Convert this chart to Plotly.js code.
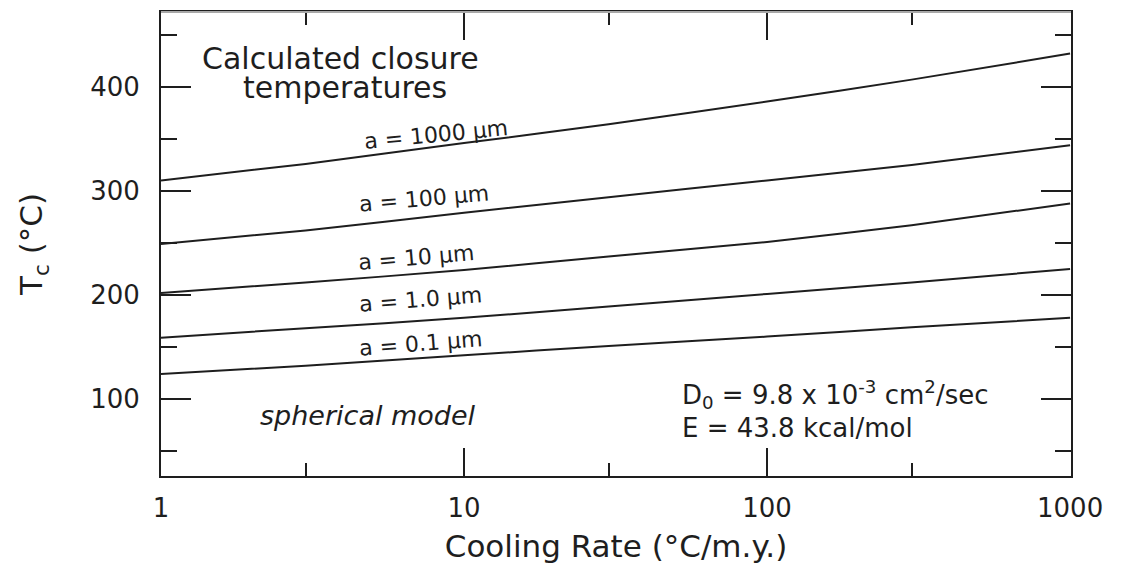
<!DOCTYPE html>
<html>
<head>
<meta charset="utf-8">
<script src="https://cdn.plot.ly/plotly-3.0.1.min.js"></script>
<style>
  html, body { margin: 0; padding: 0; background: #ffffff; }
  #chart { width: 1127px; height: 564px; }
</style>
</head>
<body>
<div id="chart"></div>
<script>
// Cooling rates (°C/m.y.) at which closure temperatures are tabulated
const coolingRate = [1, 3, 10, 30, 100, 300, 1000];

// Closure temperature Tc (°C) for each grain radius a
const tc_a1000 = [310, 326, 346, 364, 386, 407, 432];
const tc_a100  = [249, 262, 279, 294, 310, 325, 344];
const tc_a10   = [202, 212, 224, 237, 251, 267, 288];
const tc_a1    = [159, 168, 178, 189, 201, 212, 225];
const tc_a01   = [124, 132, 142, 151, 160, 169, 178];

const radiusLabels = ['a = 1000 μm', 'a = 100 μm', 'a = 10 μm', 'a = 1.0 μm', 'a = 0.1 μm'];
const seriesValues = [tc_a1000, tc_a100, tc_a10, tc_a1, tc_a01];

const xTickVals = [1, 10, 100, 1000];
const xTickText = ['1', '10', '100', '1000'];
const yTickVals = [100, 200, 300, 400];
const yTickText = ['100', '200', '300', '400'];

const INK = '#1e1e1e';
const FONT = 'DejaVu Sans, Liberation Sans, sans-serif';

const traces = seriesValues.map((vals, i) => ({
  type: 'scatter',
  mode: 'lines',
  name: radiusLabels[i],
  x: coolingRate,
  y: vals,
  line: { color: INK, width: 2, shape: 'spline', smoothing: 0.6 },
  hoverinfo: 'x+y+name'
}));

// label placement along each curve: [log10 x, Tc, angle]
const labelPlace = [
  [0.908, 353.8, -5.5],
  [0.868, 292.3, -5],
  [0.842, 236.5, -5],
  [0.855, 195.2, -4.5],
  [0.855, 153.8, -4.5]
];

const annotations = radiusLabels.map((t, i) => ({
  text: t,
  xref: 'x', yref: 'y',
  x: labelPlace[i][0], y: labelPlace[i][1],
  xanchor: 'center', yanchor: 'middle',
  textangle: labelPlace[i][2],
  showarrow: false,
  font: { family: FONT, size: 22, color: INK }
}));

annotations.push(
  {
    text: 'Calculated closure',
    xref: 'x', yref: 'y', x: 0.592, y: 427.6,
    xanchor: 'center', yanchor: 'middle', showarrow: false,
    height: 25,
    font: { family: FONT, size: 30, color: INK }
  },
  {
    text: 'temperatures',
    xref: 'x', yref: 'y', x: 0.607, y: 399.2,
    xanchor: 'center', yanchor: 'middle', showarrow: false,
    height: 33,
    font: { family: FONT, size: 30, color: INK }
  },
  {
    text: '<i>spherical model</i>',
    xref: 'x', yref: 'y', x: 0.683, y: 84,
    xanchor: 'center', yanchor: 'middle', showarrow: false,
    font: { family: FONT, size: 27, color: INK }
  },
  {
    text: 'D<sub>0</sub> = 9.8 x 10<sup>-3</sup> cm<sup>2</sup>/sec',
    xref: 'x', yref: 'y', x: 1.713, y: 104,
    xanchor: 'left', yanchor: 'middle', showarrow: false,
    font: { family: FONT, size: 26, color: INK }
  },
  {
    text: 'E = 43.8 kcal/mol',
    xref: 'x', yref: 'y', x: 1.713, y: 72,
    xanchor: 'left', yanchor: 'middle', showarrow: false,
    font: { family: FONT, size: 26, color: INK }
  }
);

const layout = {
  width: 1127,
  height: 564,
  margin: { l: 161, r: 56, t: 12, b: 88, pad: 0 },
  paper_bgcolor: '#ffffff',
  plot_bgcolor: '#ffffff',
  showlegend: false,
  font: { family: FONT, color: INK },
  xaxis: {
    type: 'log',
    range: [0, 3.003],
    tickmode: 'array',
    tickvals: xTickVals,
    ticktext: xTickText,
    ticks: 'inside',
    ticklen: 28,
    tickwidth: 2,
    tickcolor: INK,
    showline: true,
    linewidth: 2,
    linecolor: INK,
    mirror: 'ticks',
    showgrid: false,
    zeroline: false,
    ticklabelstandoff: 8,
    tickfont: { family: FONT, size: 26, color: INK },
    minor: {
      // one short tick per decade at 3, 30, 300
      tickmode: 'linear',
      tick0: Math.log10(3),
      dtick: 1,
      ticks: 'inside',
      ticklen: 13,
      tickwidth: 2,
      tickcolor: INK,
      showgrid: false
    },
    title: {
      text: 'Cooling Rate (°C/m.y.)',
      font: { family: FONT, size: 31, color: INK },
      standoff: 14
    }
  },
  yaxis: {
    range: [26, 472],
    tickmode: 'array',
    tickvals: yTickVals,
    ticktext: yTickText,
    ticks: 'inside',
    ticklen: 30,
    tickwidth: 2,
    tickcolor: INK,
    showline: true,
    linewidth: 2,
    linecolor: INK,
    mirror: 'ticks',
    showgrid: false,
    zeroline: false,
    ticklabelstandoff: 14,
    tickfont: { family: FONT, size: 26, color: INK },
    minor: {
      // short ticks halfway between the labelled ones
      tickmode: 'linear',
      tick0: 0,
      dtick: 50,
      ticks: 'inside',
      ticklen: 16,
      tickwidth: 2,
      tickcolor: INK,
      showgrid: false
    },
    title: {
      text: 'T<sub>c</sub> (°C)',
      font: { family: FONT, size: 31, color: INK },
      standoff: 38
    }
  },
  shapes: [
    {
      // faint upper frame edge
      type: 'line', xref: 'paper', yref: 'paper',
      x0: 0, x1: 1, y0: 1, y1: 1,
      line: { color: '#a8a8a8', width: 2 },
      layer: 'above'
    }
  ],
  annotations: annotations
};

Plotly.newPlot('chart', traces, layout, { displayModeBar: false, responsive: false });
</script>
</body>
</html>
